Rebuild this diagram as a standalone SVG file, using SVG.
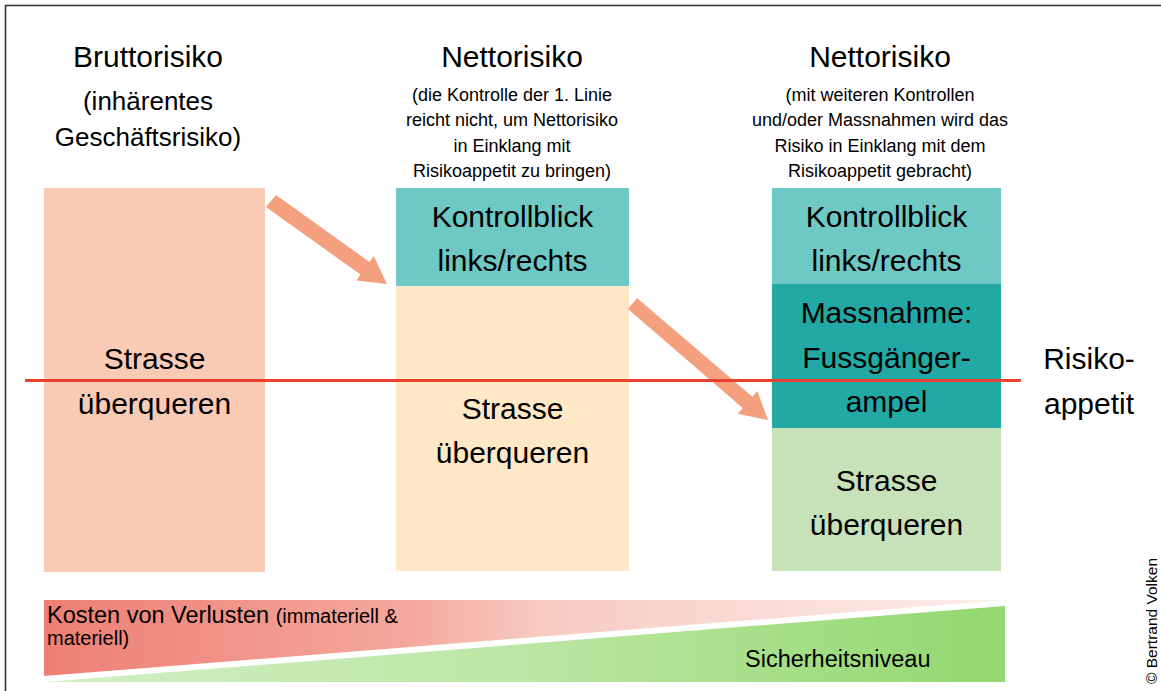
<svg xmlns="http://www.w3.org/2000/svg" width="1161" height="691" viewBox="0 0 1161 691">
<defs>
<style>
text{font-family:"Liberation Sans",Arial,sans-serif;fill:#000}
.h{font-size:30px;text-anchor:middle}
.s{font-size:18px;text-anchor:middle}
.b{font-size:30px;text-anchor:middle}
.arrow{fill:#F4A07F}
</style>
<linearGradient id="gRed" x1="44" y1="0" x2="1004" y2="0" gradientUnits="userSpaceOnUse">
<stop offset="0" stop-color="#EE7F74"/>
<stop offset="0.38" stop-color="#F4A89D"/>
<stop offset="0.52" stop-color="#F8CBC3"/>
<stop offset="1" stop-color="#FDEDEA"/>
</linearGradient>
<linearGradient id="gGreen" x1="44" y1="0" x2="1005" y2="0" gradientUnits="userSpaceOnUse">
<stop offset="0" stop-color="#D3EFC4"/>
<stop offset="0.5" stop-color="#BCE6A3"/>
<stop offset="1" stop-color="#92D86F"/>
</linearGradient>
</defs>
<rect width="1161" height="691" fill="#fff"/>
<path d="M5.5 691 V5.5 H1161" fill="none" stroke="#333" stroke-width="1.6"/>

<g id="heading-brutto">
<text class="h" x="148" y="67">Bruttorisiko</text>
<text class="h" x="148" y="110" style="font-size:26px">(inhärentes</text>
<text class="h" x="148" y="146" style="font-size:26px">Geschäftsrisiko)</text>
</g>
<g id="heading-netto1">
<text class="h" x="512" y="67">Nettorisiko</text>
<text class="s" x="512" y="101">(die Kontrolle der 1. Linie</text>
<text class="s" x="512" y="126">reicht nicht, um Nettorisiko</text>
<text class="s" x="512" y="152">in Einklang mit</text>
<text class="s" x="512" y="177">Risikoappetit zu bringen)</text>
</g>
<g id="heading-netto2">
<text class="h" x="880" y="67">Nettorisiko</text>
<text class="s" x="880" y="101">(mit weiteren Kontrollen</text>
<text class="s" x="880" y="126">und/oder Massnahmen wird das</text>
<text class="s" x="880" y="152">Risiko in Einklang mit dem</text>
<text class="s" x="880" y="177">Risikoappetit gebracht)</text>
</g>

<g id="col1">
<rect x="44" y="188" width="221" height="384" fill="#F9CAB4"/>
<text class="b" x="154.5" y="369">Strasse</text>
<text class="b" x="154.5" y="414">überqueren</text>
</g>
<g id="col2-control">
<rect x="396" y="188" width="233" height="98" fill="#6EC8C4"/>
<text class="b" x="512.5" y="227">Kontrollblick</text>
<text class="b" x="512.5" y="271">links/rechts</text>
</g>
<g id="col2-risk">
<rect x="396" y="286" width="233" height="285" fill="#FEE8C6"/>
<text class="b" x="512.5" y="419">Strasse</text>
<text class="b" x="512.5" y="463">überqueren</text>
</g>
<g id="col3-control">
<rect x="772" y="188" width="229" height="96" fill="#6EC8C4"/>
<text class="b" x="886.5" y="227">Kontrollblick</text>
<text class="b" x="886.5" y="271">links/rechts</text>
</g>
<g id="col3-measure">
<rect x="772" y="284" width="229" height="144" fill="#22A9A5"/>
<text class="b" x="886.5" y="323">Massnahme:</text>
<text class="b" x="886.5" y="368">Fussgänger-</text>
<text class="b" x="886.5" y="412">ampel</text>
</g>
<g id="col3-risk">
<rect x="772" y="428" width="229" height="143" fill="#C7E2B8"/>
<text class="b" x="886.5" y="491">Strasse</text>
<text class="b" x="886.5" y="535">überqueren</text>
</g>

<g id="connectors">
<polygon class="arrow" points="276,195 369.5,262 373.7,256 387,284 356.3,280.5 360.5,274.6 266,207"/>
<polygon class="arrow" points="637,298 752.4,396.7 757.3,391 768,420 737.7,413.8 742.6,408.1 628,309"/>
</g>

<g id="risk-appetite">
<line x1="25" y1="380.5" x2="1021" y2="380.5" stroke="#E8412F" stroke-width="3"/>
<text class="b" x="1089" y="369">Risiko-</text>
<text class="b" x="1089" y="414">appetit</text>
</g>

<g id="costs">
<polygon points="44,600 1004,600 44,676" fill="url(#gRed)"/>
<text x="47" y="623" style="font-size:23.5px">Kosten von Verlusten <tspan style="font-size:20px">(immateriell &amp;</tspan></text>
<text x="47" y="645" style="font-size:20px">materiell)</text>
</g>
<g id="safety">
<polygon points="44,682 1005,682 1005,606" fill="url(#gGreen)"/>
<text x="745" y="667" style="font-size:23.5px">Sicherheitsniveau</text>
</g>

<text transform="translate(1157,684) rotate(-90)" x="0" y="0" style="font-size:15.5px">© Bertrand Volken</text>
</svg>
